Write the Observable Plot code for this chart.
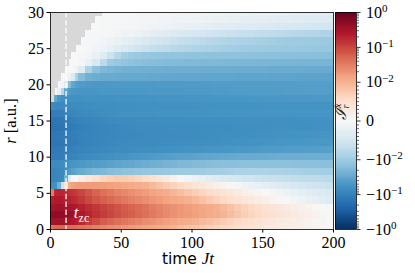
<!DOCTYPE html>
<html><head><meta charset="utf-8">
<script src="https://cdn.jsdelivr.net/npm/d3@7"></script>
<script src="https://cdn.jsdelivr.net/npm/@observablehq/plot@0.6"></script>
<style>
html,body{margin:0;padding:0;background:#fff;}
#chart{position:relative;width:415px;height:273px;overflow:hidden;}
#chart svg{position:absolute;left:0;top:0;}
</style></head><body><div id="chart"></div>
<script>
// ---- data ----
const times = [0,2.5,5,7.5,10,12.5,15,17.5,20,25,30,35,40,45,50,55,60,65,70,75,80,85,90,95,100,105,110,115,120,125,130,135,140,145,150,155,160,165,170,175,180,185,190,195];
const tMax = 200;
const radii = [0,1,2,3,4,5,6,7,8,9,10,11,12,13,14,15,16,17,18,19,20,21,22,23,24,25,26,27,28,29,30];
// start time of valid data per radius (before: no data, grey)
const grayUntil = [0,0,0,0,0,0,0,0,0,0,0,0,0,0,0,0,0,0.9,2.1,3.8,5.7,8.0,10.4,13.2,15.1,18.6,21.7,24.5,28.7,31.6,37];
const valueUnit = 1e-3; // values below are in units of 10^-3
const rowValues = [
/* r=0 */ [40,48,50,48,46,44,42,40,37,33,29,26,23,21,19,17,15.5,14,12.8,11.7,10.6,9.7,8.8,8.2,7.7,7.2,6.7,6.2,5.7,5.2,4.7,4.2,3.7,3.3,2.9,2.5,2.2,1.9,1.6,1.3,1.0,0.8,0.5,0.3],
/* r=1 */ [300,330,330,320,300,270,240,210,170,120,85,62,50,42,36,31,27,23,20,17,15,13.2,11.8,10.8,10,9.2,8.5,7.8,7.1,6.4,5.8,5.2,4.6,4.1,3.6,3.1,2.7,2.3,1.9,1.5,1.1,0.7,0.4,0.1],
/* r=2 */ [420,460,460,450,420,390,350,310,250,190,145,115,95,80,67,57,48,41,34,29,24.5,21,18.5,16.5,14.8,13.3,12,10.8,9.7,8.7,7.8,7,6.2,5.5,4.8,4.2,3.6,3.1,2.6,2.1,1.6,1.1,0.6,0.2],
/* r=3 */ [290,320,330,320,300,280,260,235,200,160,128,105,88,74,62,53,45,38,32,27,23.5,20.5,18,16,14.3,12.8,11.5,10.3,9.2,8.2,7.3,6.5,5.7,5,4.3,3.7,3.1,2.5,2,1.5,1,0.5,0,-0.4],
/* r=4 */ [210,240,240,230,215,195,175,155,125,92,70,56,47,40,34,29,25,21.5,18.5,16,14,12.5,11.2,10.1,9.1,8.2,7.3,6.5,5.7,4.9,4.2,3.5,2.8,2.1,1.5,0.9,0.3,-0.3,-0.9,-1.5,-2.1,-2.6,-3.1,-3.6],
/* r=5 */ [30,170,185,180,165,150,135,120,98,72,53,41,34,29,25,21.5,18.5,16,14,12.3,10.8,9.6,8.6,7.7,6.9,6.1,5.3,4.5,3.8,3.1,2.4,1.8,1.2,0.6,0,-0.6,-1.2,-1.8,-2.3,-2.8,-3.3,-3.7,-4.0,-4.3],
/* r=6 */ [-65,-60,-25,-6,4,12,15,16.5,17,17,16.5,16,15,14,13,12,11,10,9,8.1,7.2,6.4,5.6,4.8,4.0,3.2,2.4,1.6,0.9,0.2,-0.5,-1.1,-1.7,-2.3,-2.8,-3.3,-3.8,-4.2,-4.6,-5.0,-5.3,-5.6,-5.9,-6.2],
/* r=7 */ [-85,-85,-82,-75,-25,-4,-0.5,0.5,2,3.5,5,6.2,7,7.3,7.2,6.8,6.2,5.4,4.5,3.5,2.4,1.3,0.3,-0.7,-1.6,-2.4,-3.1,-3.7,-4.2,-4.6,-5.0,-5.3,-5.6,-5.9,-6.1,-6.3,-6.5,-6.7,-6.9,-7.0,-7.2,-7.3,-7.5,-7.6],
/* r=8 */ [-85,-85,-82,-78,-60,-46,-38,-33,-28,-24,-21,-19,-17,-16,-15,-14.2,-13.5,-12.9,-12.4,-12,-11.6,-11.2,-10.9,-10.6,-10.3,-10,-9.8,-9.6,-9.4,-9.2,-9,-8.9,-8.8,-8.8,-8.8,-8.9,-9,-9.1,-9.2,-9.3,-9.4,-9.5,-9.6,-9.7],
/* r=9 */ [-75,-75,-73,-70,-64,-58,-54,-51,-48,-45,-42,-40,-37,-35,-33,-31,-29,-27,-25.5,-24,-22.5,-21.2,-20,-19,-18,-17.3,-16.7,-16.2,-15.8,-15.5,-15.2,-15,-14.9,-14.8,-14.8,-14.8,-14.9,-15,-15.1,-15.2,-15.3,-15.4,-15.5,-15.6],
/* r=10 */ [-115,-115,-112,-108,-102,-96,-90,-85,-79,-73,-69,-65,-62,-59,-56,-53,-50,-48,-46,-44,-42,-40,-38.5,-37,-35.5,-34.3,-33.2,-32.2,-31.3,-30.5,-29.8,-29.2,-28.7,-28.3,-27.9,-27.6,-27.3,-27.1,-26.9,-26.7,-26.5,-26.4,-26.3,-26.2],
/* r=11 */ [-125,-125,-122,-118,-112,-106,-100,-96,-90,-85,-81,-78,-75,-73,-71,-69,-67,-65.5,-64,-62.5,-61,-59.5,-58,-57,-56,-55,-54,-53,-52,-51,-50,-49,-48,-47,-46.2,-45.4,-44.6,-43.8,-43,-42.3,-41.6,-41,-40.4,-39.8],
/* r=12 */ [-145,-145,-140,-135,-128,-120,-113,-107,-100,-94,-89,-85,-82,-79,-77,-75,-73.5,-72,-71,-70,-69,-68,-67,-66,-65,-64,-63,-62,-61,-60,-59,-58,-57,-56.2,-55.4,-54.6,-53.8,-53,-52.3,-51.6,-51,-50.4,-49.8,-49.2],
/* r=13 */ [-135,-135,-131,-127,-121,-115,-109,-104,-98,-93,-89,-86,-83,-81,-79,-77.5,-76,-75,-74,-73,-72,-71,-70.2,-69.4,-68.6,-67.8,-67,-66.2,-65.4,-64.6,-63.8,-63,-62.2,-61.4,-60.6,-59.8,-59,-58.2,-57.4,-56.6,-55.8,-55,-54.3,-53.6],
/* r=14 */ [-155,-155,-150,-144,-136,-128,-120,-113,-105,-98,-92,-87,-83,-80,-77.5,-75.5,-74,-72.8,-71.8,-71,-70.3,-69.7,-69.1,-68.6,-68.1,-67.6,-67.1,-66.7,-66.3,-65.9,-65.5,-65.1,-64.7,-64.3,-63.9,-63.5,-63.1,-62.8,-62.5,-62.2,-61.9,-61.6,-61.3,-61],
/* r=15 */ [-145,-145,-140,-133,-125,-117,-109,-102,-95,-89,-84,-80,-77,-74.5,-72.5,-71,-69.8,-68.8,-68,-67.3,-66.7,-66.2,-65.8,-65.4,-65,-64.7,-64.4,-64.1,-63.8,-63.5,-63.3,-63.1,-62.9,-62.7,-62.5,-62.3,-62.1,-61.9,-61.7,-61.5,-61.3,-61.1,-60.9,-60.7],
/* r=16 */ [-115,-112,-108,-103,-97,-91,-86,-81,-76,-72,-68.5,-66,-64,-62.5,-61.2,-60.2,-59.4,-58.7,-58.1,-57.6,-57.2,-56.8,-56.5,-56.2,-55.9,-55.7,-55.5,-55.3,-55.1,-54.9,-54.7,-54.5,-54.3,-54.2,-54.1,-54,-53.9,-53.8,-53.7,-53.6,-53.5,-53.4,-53.3,-53.2],
/* r=17 */ [-70,-78,-80,-79,-77,-75,-73,-71,-69,-67,-65.5,-64.5,-63.7,-63,-62.5,-62,-61.6,-61.3,-61,-60.8,-60.6,-60.4,-60.2,-60,-59.8,-59.6,-59.4,-59.2,-59,-58.8,-58.6,-58.4,-58.2,-58,-57.8,-57.6,-57.4,-57.2,-57,-56.8,-56.6,-56.4,-56.2,-56],
/* r=18 */ [-6,-30,-52,-60,-62,-61.5,-61,-60.5,-60,-59.5,-59,-58.5,-58,-57.6,-57.2,-56.8,-56.4,-56,-55.7,-55.4,-55.1,-54.8,-54.5,-54.2,-53.9,-53.6,-53.3,-53,-52.7,-52.4,-52.1,-51.8,-51.5,-51.2,-50.9,-50.6,-50.3,-50,-49.7,-49.4,-49.1,-48.8,-48.5,-48.2],
/* r=19 */ [null,-0.8,-2.5,-8,-30,-45,-51,-53,-53,-52.5,-52,-51.5,-51,-50.6,-50.2,-49.8,-49.4,-49,-48.7,-48.4,-48.1,-47.8,-47.5,-47.2,-46.9,-46.6,-46.3,-46,-45.7,-45.4,-45.1,-44.8,-44.5,-44.2,-43.9,-43.6,-43.3,-43,-42.7,-42.4,-42.1,-41.8,-41.5,-41.2],
/* r=20 */ [null,null,-0.3,-1,-4,-16,-32,-41,-45,-47,-47.5,-47.5,-47.5,-47.3,-47.1,-46.9,-46.7,-46.5,-46.3,-46.1,-45.9,-45.7,-45.5,-45.3,-45.1,-44.9,-44.7,-44.5,-44.3,-44.1,-43.9,-43.7,-43.5,-43.3,-43.1,-42.9,-42.7,-42.5,-42.3,-42.1,-41.9,-41.7,-41.5,-41.3],
/* r=21 */ [null,null,null,-0.2,-0.5,-1.5,-4,-9,-17,-24,-27,-28.5,-29,-29.5,-30,-30.2,-30.5,-30.7,-31,-31.2,-31.5,-31.7,-32,-32.2,-32.4,-32.6,-32.8,-33,-33.2,-33.4,-33.6,-33.8,-34,-34.2,-34.4,-34.6,-34.8,-35,-35.2,-35.4,-35.6,-35.8,-36,-36.2],
/* r=22 */ [null,null,null,null,0,0,-0.3,-1.0,-3.5,-9,-15,-19,-21.5,-23,-24,-24.5,-25,-25.3,-25.6,-25.8,-26,-26.2,-26.4,-26.5,-26.6,-26.8,-27,-27.1,-27.2,-27.3,-27.4,-27.5,-27.6,-27.7,-27.8,-27.9,-28,-28.1,-28.2,-28.3,-28.4,-28.5,-28.6,-28.7],
/* r=23 */ [null,null,null,null,null,0,0,-0.1,-0.5,-2,-4.5,-7.5,-10,-12,-13.5,-14.5,-15.3,-16,-16.5,-17,-17.4,-17.8,-18.1,-18.4,-18.7,-19,-19.2,-19.4,-19.6,-19.8,-20,-20.2,-20.4,-20.6,-20.8,-21,-21.2,-21.4,-21.5,-21.7,-21.8,-22,-22.1,-22.2],
/* r=24 */ [null,null,null,null,null,null,0,0,-0.2,-0.8,-2,-3.8,-6,-8,-9.5,-10.5,-11.3,-12,-12.5,-12.9,-13.2,-13.5,-13.7,-13.9,-14,-14.2,-14.3,-14.4,-14.5,-14.6,-14.7,-14.8,-14.9,-15,-15.1,-15.2,-15.3,-15.4,-15.5,-15.6,-15.7,-15.8,-15.9,-16],
/* r=25 */ [null,null,null,null,null,null,null,0,-0.1,-0.4,-0.9,-1.6,-2.5,-3.4,-4.3,-5.0,-5.6,-6.1,-6.6,-7,-7.4,-7.7,-8,-8.3,-8.5,-8.8,-9,-9.2,-9.4,-9.6,-9.8,-10,-10.2,-10.4,-10.6,-10.8,-11,-11.2,-11.4,-11.6,-11.8,-12,-12.2,-12.4],
/* r=26 */ [null,null,null,null,null,null,null,null,-0.1,-0.3,-0.6,-1,-1.5,-2,-2.6,-3.2,-3.8,-4.4,-4.9,-5.4,-5.8,-6.2,-6.6,-6.9,-7.2,-7.5,-7.8,-8,-8.3,-8.5,-8.7,-8.9,-9.1,-9.3,-9.5,-9.7,-9.9,-10.1,-10.3,-10.5,-10.7,-10.9,-11,-11.2],
/* r=27 */ [null,null,null,null,null,null,null,null,-0.1,-0.2,-0.3,-0.4,-0.6,-0.8,-1.1,-1.4,-1.8,-2.2,-2.7,-3.1,-3.5,-3.9,-4.3,-4.6,-4.9,-5.2,-5.5,-5.7,-5.9,-6.1,-6.3,-6.5,-6.7,-6.9,-7,-7.2,-7.4,-7.6,-7.8,-8,-8.2,-8.3,-8.5,-8.6],
/* r=28 */ [null,null,null,null,null,null,null,null,null,-0.1,-0.1,-0.2,-0.3,-0.4,-0.5,-0.6,-0.8,-0.9,-1.1,-1.3,-1.5,-1.7,-1.9,-2.1,-2.3,-2.5,-2.7,-2.9,-3.1,-3.3,-3.5,-3.6,-3.8,-4,-4.1,-4.3,-4.4,-4.6,-4.7,-4.8,-5,-5.1,-5.2,-5.3],
/* r=29 */ [null,null,null,null,null,null,null,null,null,null,-0.1,-0.2,-0.3,-0.3,-0.4,-0.5,-0.6,-0.7,-0.8,-0.9,-1,-1.1,-1.2,-1.3,-1.5,-1.6,-1.7,-1.9,-2,-2.1,-2.3,-2.4,-2.6,-2.7,-2.8,-3,-3.1,-3.2,-3.4,-3.5,-3.6,-3.8,-3.9,-4],
/* r=30 */ [null,null,null,null,null,null,null,null,null,null,null,-0.2,-0.3,-0.3,-0.4,-0.4,-0.5,-0.5,-0.6,-0.7,-0.8,-0.9,-1,-1.1,-1.2,-1.3,-1.4,-1.5,-1.6,-1.7,-1.8,-1.9,-2,-2.1,-2.2,-2.3,-2.5,-2.6,-2.7,-2.9,-3,-3.1,-3.3,-3.4]
];
const xTicks = [0,50,100,150,200];
const yTicks = [0,5,10,15,20,25,30];
const cbMajor = [-1,-0.1,-0.01,0,0.01,0.1,1];
const cbMinorBases = [0.001,0.01,0.1];
const cbMinorFactors = [1,2,3,4,5,6,7,8,9];
const tZC = 11;
const tzcLabel = [{t: 16.5, r: 2.3}];
const rdbuR = ["#053061","#2166ac","#4393c3","#92c5de","#d1e5f0","#f7f7f7","#fddbc7","#f4a582","#d6604d","#b2182b","#67001f"];

rowValues.forEach((row, i) => { if (row.length !== times.length) throw new Error("row " + i + " has " + row.length); });

// ---- symlog norm (linthresh 1e-2, linscale 1) ----
const linthresh = 0.01, linscaleAdj = 1 / (1 - 1 / 10);
const symPos = v => { const a = Math.abs(v); const p = a <= linthresh ? a / linthresh * linscaleAdj : linscaleAdj + Math.log10(a / linthresh); return Math.sign(v) * p; };
const invPos = p => { const a = Math.abs(p); const v = a <= linscaleAdj ? a / linscaleAdj * linthresh : linthresh * Math.pow(10, a - linscaleAdj); return Math.sign(p) * v; };
const P = symPos(1);
const norm = v => (symPos(v) + P) / (2 * P);
const cmap = u => { u = Math.max(0, Math.min(1, u)); const s = u * 10; const i = Math.min(9, Math.floor(s)); return d3.interpolateRgb(rdbuR[i], rdbuR[i + 1])(s - i); };
const colorScale = {type: "linear", domain: [-1, 1], interpolate: u => cmap(norm(2 * u - 1))};

const cells = [];
radii.forEach((r, i) => rowValues[i].forEach((v, j) => {
  if (v == null) return;
  cells.push({t1: times[j], t2: j + 1 < times.length ? times[j + 1] : tMax, r, value: v * valueUnit});
}));
const grayRows = radii.map((r, i) => ({r, until: grayUntil[i]})).filter(d => d.until > 0);

const SERIF = "'Liberation Serif', serif";
const SANS = "'DejaVu Sans', sans-serif";

const main = Plot.plot({
  width: 415, height: 273,
  marginLeft: 50, marginRight: 82, marginTop: 12, marginBottom: 44,
  style: {background: "transparent", overflow: "visible", fontSize: "16px"},
  x: {domain: [0, tMax], ticks: xTicks, tickSize: 3.5, tickPadding: 4, label: null, tickFormat: d => String(d)},
  y: {domain: [0, 30], ticks: yTicks, tickSize: 3.5, tickPadding: 3, label: null, tickFormat: d => String(d)},
  color: colorScale,
  marks: [
    Plot.rect(cells, {x1: "t1", x2: "t2", y1: d => d.r - 0.5, y2: d => d.r + 0.5, fill: "value", clip: true, shapeRendering: "crispEdges"}),
    Plot.rect(grayRows, {x1: 0, x2: "until", y1: d => d.r - 0.5, y2: d => d.r + 0.5, fill: "#d8d8d8", clip: true, shapeRendering: "crispEdges"}),
    Plot.ruleX([tZC], {stroke: "white", strokeWidth: 1.4, strokeDasharray: "5.5,2.4", strokeOpacity: 0.9}),
    Plot.text(tzcLabel, {x: "t", y: "r", text: () => "t", textAnchor: "start", fill: "white", ariaDescription: "tzc"}),
    Plot.frame({stroke: "black", strokeWidth: 0.8})
  ]
});

// colorbar
const N = 240;
const strips = d3.range(N).map(i => {
  const p1 = -P + 2 * P * i / N, p2 = -P + 2 * P * (i + 1) / N;
  return {p1, p2, value: invPos((p1 + p2) / 2)};
});
const minorVals = [];
cbMinorBases.forEach(base => cbMinorFactors.forEach(k => {
  const v = k * base;
  if (cbMajor.some(m => Math.abs(Math.abs(m) - v) < 1e-12)) return;
  minorVals.push(v, -v);
}));
const fmt = v => v === 0 ? "0" : (v < 0 ? "\u2212" : "") + "10^" + String(Math.round(Math.log10(Math.abs(v)))).replace("-", "\u2212");
const labelMap = new Map(cbMajor.map(v => [symPos(v), fmt(v)]));

const cb = Plot.plot({
  width: 415, height: 273,
  marginLeft: 335, marginRight: 59, marginTop: 12, marginBottom: 44,
  style: {background: "transparent", overflow: "visible", fontSize: "16px"},
  x: {domain: [0, 1], axis: null},
  y: {domain: [-P, P], axis: null, label: null},
  color: colorScale,
  marks: [
    Plot.rect(strips, {x1: 0, x2: 1, y1: "p1", y2: "p2", fill: "value", shapeRendering: "crispEdges"}),
    Plot.axisY(minorVals.map(symPos), {anchor: "right", tickSize: 2, tickFormat: () => "", strokeWidth: 0.6, label: null}),
    Plot.axisY(cbMajor.map(symPos), {anchor: "right", tickSize: 3.5, tickPadding: 6, strokeWidth: 0.8, tickFormat: p => labelMap.get(p), label: null}),
    Plot.frame({stroke: "black", strokeWidth: 0.8})
  ]
});

const chart = document.getElementById("chart");
chart.append(main);
chart.append(cb);

// superscripts on colorbar tick labels
d3.select(cb).selectAll("text").each(function () {
  const s = this.textContent;
  const m = s.match(/^(\u2212?)10\^(.+)$/);
  if (!m) return;
  const t = d3.select(this);
  t.text(null);
  t.append("tspan").text(m[1] + "10");
  t.append("tspan").attr("dy", "-0.5em").style("font-size", "11px").text(m[2]);
});

// t_zc label
d3.select(main).selectAll('g[aria-description="tzc"] text').each(function () {
  const t = d3.select(this);
  t.text(null);
  t.append("tspan").style("font-style", "italic").style("font-size", "17px").text("t");
  t.append("tspan").attr("dy", "0.3em").style("font-size", "12px").text("zc");
});

// axis labels
const ms = d3.select(main);
const xl = ms.append("text").attr("x", 188).attr("y", 264).attr("text-anchor", "middle").attr("fill", "black");
xl.append("tspan").attr("class", "sans").style("font-size", "15.5px").text("time ");
xl.append("tspan").style("font-style", "italic").style("font-size", "17px").text("Jt");
const yl = ms.append("text").attr("transform", "translate(16,121) rotate(-90)").attr("text-anchor", "middle").attr("fill", "black").style("font-size", "16.5px");
yl.append("tspan").style("font-style", "italic").text("r");
yl.append("tspan").text(" [a.u.]");
const cl = d3.select(cb).append("text").attr("transform", "translate(346,112) rotate(-90)").attr("text-anchor", "middle").attr("fill", "#222").style("font-size", "16px");
cl.append("tspan").style("font-style", "italic").text("\u2110");
cl.append("tspan").style("font-size", "10px").style("font-style", "italic").attr("dy", "0.3em").text("r");
cl.append("tspan").style("font-size", "10px").style("font-style", "italic").attr("dx", "-0.35em").attr("dy", "-0.85em").text("x");

// fonts: set explicitly on every text element
d3.select(chart).selectAll("text").style("font-family", SERIF).style("font-variant", "normal");
d3.select(chart).selectAll("tspan.sans").style("font-family", SANS);
</script></body></html>
